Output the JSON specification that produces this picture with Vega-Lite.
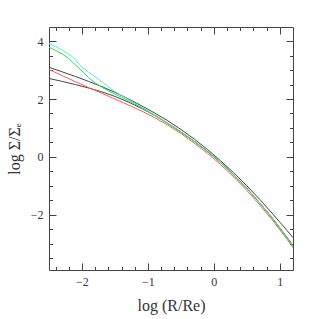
{
  "$schema": "https://vega.github.io/schema/vega-lite/v6.json",
  "width": 244,
  "height": 243,
  "autosize": "none",
  "padding": {"left": 49, "top": 27, "right": 26, "bottom": 49},
  "background": "white",
  "config": {
    "view": {"stroke": "#444", "strokeWidth": 1},
    "axis": {
      "grid": false,
      "domain": false,
      "tickColor": "#444",
      "tickWidth": 1,
      "labelColor": "#333",
      "titleColor": "#333",
      "labelFont": "Liberation Serif",
      "titleFont": "Liberation Serif",
      "titleFontWeight": "normal",
      "labelFontSize": 12,
      "titleFontSize": 16,
      "labelOverlap": false,
      "labelFlush": false
    }
  },
  "datasets": {
    "curves": [
      {"s": "k1", "x": -2.5, "y": 3.10}, {"s": "k1", "x": -2.3, "y": 2.94}, {"s": "k1", "x": -2.1, "y": 2.78}, {"s": "k1", "x": -1.9, "y": 2.61}, {"s": "k1", "x": -1.7, "y": 2.43}, {"s": "k1", "x": -1.5, "y": 2.23}, {"s": "k1", "x": -1.3, "y": 2.01}, {"s": "k1", "x": -1.1, "y": 1.77}, {"s": "k1", "x": -0.9, "y": 1.52}, {"s": "k1", "x": -0.7, "y": 1.25}, {"s": "k1", "x": -0.5, "y": 0.95}, {"s": "k1", "x": -0.3, "y": 0.62}, {"s": "k1", "x": -0.1, "y": 0.26}, {"s": "k1", "x": 0.1, "y": -0.13}, {"s": "k1", "x": 0.3, "y": -0.55}, {"s": "k1", "x": 0.5, "y": -1.00}, {"s": "k1", "x": 0.7, "y": -1.48}, {"s": "k1", "x": 0.9, "y": -1.99}, {"s": "k1", "x": 1.1, "y": -2.52}, {"s": "k1", "x": 1.2, "y": -2.79},
      {"s": "k2", "x": -2.5, "y": 2.71}, {"s": "k2", "x": -2.3, "y": 2.61}, {"s": "k2", "x": -2.1, "y": 2.50}, {"s": "k2", "x": -1.9, "y": 2.38}, {"s": "k2", "x": -1.7, "y": 2.25}, {"s": "k2", "x": -1.5, "y": 2.09}, {"s": "k2", "x": -1.3, "y": 1.90}, {"s": "k2", "x": -1.1, "y": 1.68}, {"s": "k2", "x": -0.9, "y": 1.44}, {"s": "k2", "x": -0.7, "y": 1.16}, {"s": "k2", "x": -0.5, "y": 0.86}, {"s": "k2", "x": -0.3, "y": 0.54}, {"s": "k2", "x": -0.1, "y": 0.19}, {"s": "k2", "x": 0.1, "y": -0.19}, {"s": "k2", "x": 0.3, "y": -0.62}, {"s": "k2", "x": 0.5, "y": -1.09}, {"s": "k2", "x": 0.7, "y": -1.60}, {"s": "k2", "x": 0.9, "y": -2.15}, {"s": "k2", "x": 1.1, "y": -2.75}, {"s": "k2", "x": 1.2, "y": -3.06},
      {"s": "red", "x": -2.5, "y": 3.02}, {"s": "red", "x": -2.3, "y": 2.81}, {"s": "red", "x": -2.1, "y": 2.60}, {"s": "red", "x": -1.9, "y": 2.40}, {"s": "red", "x": -1.7, "y": 2.20}, {"s": "red", "x": -1.5, "y": 2.00}, {"s": "red", "x": -1.3, "y": 1.80}, {"s": "red", "x": -1.1, "y": 1.59}, {"s": "red", "x": -0.9, "y": 1.36}, {"s": "red", "x": -0.7, "y": 1.10}, {"s": "red", "x": -0.5, "y": 0.81}, {"s": "red", "x": -0.3, "y": 0.48}, {"s": "red", "x": -0.1, "y": 0.13}, {"s": "red", "x": 0.1, "y": -0.26}, {"s": "red", "x": 0.3, "y": -0.69}, {"s": "red", "x": 0.5, "y": -1.16}, {"s": "red", "x": 0.7, "y": -1.67}, {"s": "red", "x": 0.9, "y": -2.22}, {"s": "red", "x": 1.1, "y": -2.82}, {"s": "red", "x": 1.2, "y": -3.14},
      {"s": "cyan", "x": -2.5, "y": 3.92}, {"s": "cyan", "x": -2.4, "y": 3.81}, {"s": "cyan", "x": -2.3, "y": 3.69}, {"s": "cyan", "x": -2.2, "y": 3.55}, {"s": "cyan", "x": -2.15, "y": 3.47}, {"s": "cyan", "x": -2.1, "y": 3.37}, {"s": "cyan", "x": -2.05, "y": 3.22}, {"s": "cyan", "x": -2.0, "y": 3.10}, {"s": "cyan", "x": -1.9, "y": 2.93}, {"s": "cyan", "x": -1.8, "y": 2.77}, {"s": "cyan", "x": -1.7, "y": 2.60}, {"s": "cyan", "x": -1.6, "y": 2.42}, {"s": "cyan", "x": -1.5, "y": 2.26}, {"s": "cyan", "x": -1.4, "y": 2.12}, {"s": "cyan", "x": -1.2, "y": 1.86}, {"s": "cyan", "x": -1.0, "y": 1.59}, {"s": "cyan", "x": -0.8, "y": 1.31}, {"s": "cyan", "x": -0.6, "y": 1.02}, {"s": "cyan", "x": -0.4, "y": 0.71}, {"s": "cyan", "x": -0.2, "y": 0.38}, {"s": "cyan", "x": 0.0, "y": 0.02}, {"s": "cyan", "x": 0.2, "y": -0.39}, {"s": "cyan", "x": 0.4, "y": -0.84}, {"s": "cyan", "x": 0.6, "y": -1.33}, {"s": "cyan", "x": 0.8, "y": -1.87}, {"s": "cyan", "x": 1.0, "y": -2.46}, {"s": "cyan", "x": 1.2, "y": -3.08},
      {"s": "green", "x": -2.5, "y": 3.79}, {"s": "green", "x": -2.4, "y": 3.68}, {"s": "green", "x": -2.3, "y": 3.56}, {"s": "green", "x": -2.2, "y": 3.40}, {"s": "green", "x": -2.1, "y": 3.18}, {"s": "green", "x": -2.0, "y": 2.97}, {"s": "green", "x": -1.9, "y": 2.74}, {"s": "green", "x": -1.8, "y": 2.56}, {"s": "green", "x": -1.7, "y": 2.41}, {"s": "green", "x": -1.6, "y": 2.28}, {"s": "green", "x": -1.4, "y": 2.06}, {"s": "green", "x": -1.2, "y": 1.83}, {"s": "green", "x": -1.0, "y": 1.57}, {"s": "green", "x": -0.8, "y": 1.30}, {"s": "green", "x": -0.6, "y": 1.01}, {"s": "green", "x": -0.4, "y": 0.70}, {"s": "green", "x": -0.2, "y": 0.37}, {"s": "green", "x": 0.0, "y": 0.01}, {"s": "green", "x": 0.2, "y": -0.40}, {"s": "green", "x": 0.4, "y": -0.85}, {"s": "green", "x": 0.6, "y": -1.34}, {"s": "green", "x": 0.8, "y": -1.88}, {"s": "green", "x": 1.0, "y": -2.47}, {"s": "green", "x": 1.2, "y": -3.10}
    ]
  },
  "data": {"name": "curves"},
  "layer": [
    {
      "mark": {"type": "line", "strokeWidth": 1, "clip": true},
      "encoding": {
        "x": {
          "field": "x", "type": "quantitative",
          "scale": {"domain": [-2.5, 1.2], "nice": false, "zero": false},
          "axis": {"orient": "bottom", "values": [-2, -1, 0, 1], "format": "d", "offset": -7, "tickSize": 7, "labelPadding": 6, "title": "log (R/Re)", "titlePadding": 10}
        },
        "y": {
          "field": "y", "type": "quantitative",
          "scale": {"domain": [-3.91, 4.49], "nice": false, "zero": false},
          "axis": {"orient": "left", "values": [-2, 0, 2, 4], "format": "d", "offset": -7, "tickSize": 7, "labelPadding": 6, "title": "log Σ/Σₑ", "titlePadding": 8}
        },
        "color": {
          "field": "s", "type": "nominal",
          "scale": {"domain": ["k1", "k2", "red", "cyan", "green"], "range": ["#444444", "#444444", "#ff5a5a", "#45f0f0", "#45d845"]},
          "legend": null
        }
      }
    },
    {
      "mark": {"type": "line", "opacity": 0},
      "encoding": {
        "x": {"field": "x", "type": "quantitative", "axis": {"orient": "top", "values": [-2, -1, 0, 1], "labels": false, "offset": -7, "tickSize": 7, "title": null}},
        "y": {"field": "y", "type": "quantitative", "axis": {"orient": "right", "values": [-2, 0, 2, 4], "labels": false, "offset": -7, "tickSize": 7, "title": null}},
        "detail": {"field": "s", "type": "nominal"}
      }
    },
    {
      "mark": {"type": "line", "opacity": 0},
      "encoding": {
        "x": {"field": "x", "type": "quantitative", "axis": {"orient": "bottom", "values": [-2.4, -2.2, -1.8, -1.6, -1.4, -1.2, -0.8, -0.6, -0.4, -0.2, 0.2, 0.4, 0.6, 0.8], "labels": false, "offset": -3.5, "tickSize": 3.5, "title": null}},
        "y": {"field": "y", "type": "quantitative", "axis": {"orient": "left", "values": [-3.5, -3, -2.5, -1.5, -1, -0.5, 0.5, 1, 1.5, 2.5, 3, 3.5], "labels": false, "offset": -3.5, "tickSize": 3.5, "title": null}},
        "detail": {"field": "s", "type": "nominal"}
      }
    },
    {
      "mark": {"type": "line", "opacity": 0},
      "encoding": {
        "x": {"field": "x", "type": "quantitative", "axis": {"orient": "top", "values": [-2.4, -2.2, -1.8, -1.6, -1.4, -1.2, -0.8, -0.6, -0.4, -0.2, 0.2, 0.4, 0.6, 0.8], "labels": false, "offset": -3.5, "tickSize": 3.5, "title": null}},
        "y": {"field": "y", "type": "quantitative", "axis": {"orient": "right", "values": [-3.5, -3, -2.5, -1.5, -1, -0.5, 0.5, 1, 1.5, 2.5, 3, 3.5], "labels": false, "offset": -3.5, "tickSize": 3.5, "title": null}},
        "detail": {"field": "s", "type": "nominal"}
      }
    }
  ],
  "resolve": {"axis": {"x": "independent", "y": "independent"}}
}
